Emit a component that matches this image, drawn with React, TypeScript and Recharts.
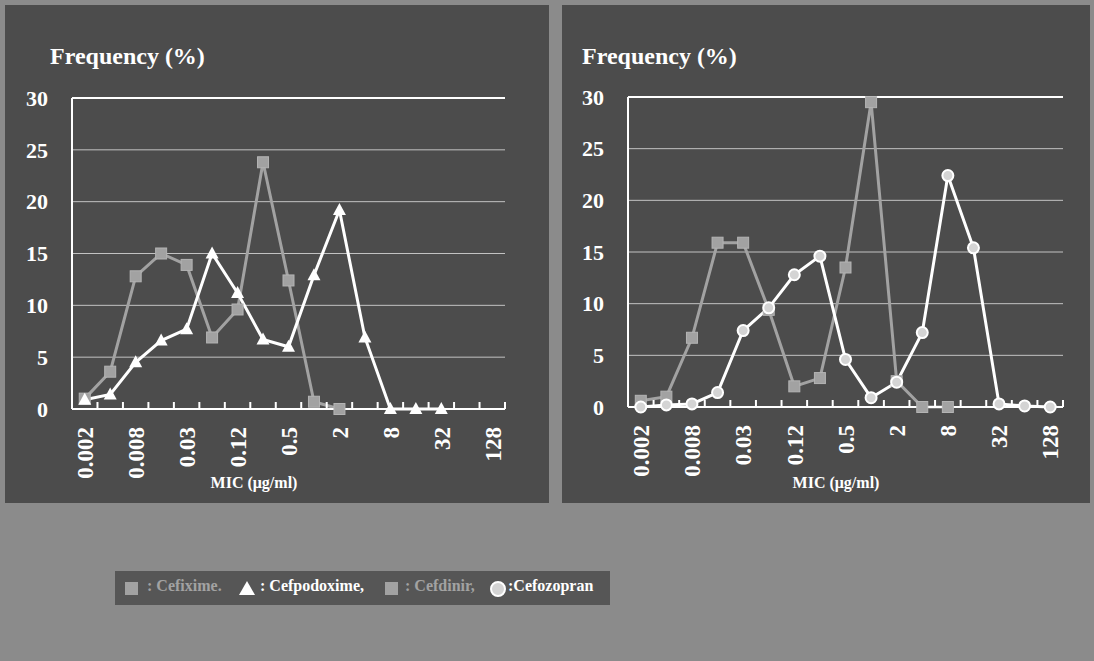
import React from 'react';
import {
  LineChart,
  Line,
  XAxis,
  YAxis,
  CartesianGrid,
  ReferenceLine
} from 'recharts';

// MIC dilution steps (µg/ml)
const categories = [
  '0.002', '0.004', '0.008', '0.016', '0.03', '0.06', '0.12', '0.25', '0.5',
  '1', '2', '4', '8', '16', '32', '64', '128'
];

// frequency (%) per MIC step
const cefixime = [1.0, 3.6, 12.8, 15.0, 13.9, 6.9, 9.6, 23.8, 12.4, 0.7, 0.0, null, null, null, null, null, null];
const cefpodoxime = [0.9, 1.4, 4.5, 6.6, 7.7, 15.0, 11.2, 6.7, 6.0, 12.9, 19.2, 6.9, 0, 0, 0, null, null];
const cefdinir = [0.6, 1.0, 6.7, 15.9, 15.9, 9.4, 2.0, 2.8, 13.5, 29.5, 2.5, 0, 0, null, null, null, null];
const cefozopran = [0, 0.2, 0.3, 1.4, 7.4, 9.6, 12.8, 14.6, 4.6, 0.9, 2.4, 7.2, 22.4, 15.4, 0.3, 0.1, 0];

const yTicks = [0, 5, 10, 15, 20, 25, 30];

const FONT = '"Liberation Serif", "Times New Roman", serif';
const GRAY = '#a2a2a2';
const PANEL_BG = '#4c4c4c';

const leftData = categories.map((c, i) => ({ mic: c, cefixime: cefixime[i], cefpodoxime: cefpodoxime[i] }));
const rightData = categories.map((c, i) => ({ mic: c, cefdinir: cefdinir[i], cefozopran: cefozopran[i] }));

const SquareDot = (props: any) => {
  const { cx, cy, index } = props;
  if (cx == null || cy == null) return <g key={`s${index}`} />;
  return <rect key={`s${index}`} x={cx - 5.5} y={cy - 5.5} width={11} height={11} fill={GRAY} stroke="#b4b4b4" strokeWidth={1} />;
};

const TriangleDot = (props: any) => {
  const { cx, cy, index } = props;
  if (cx == null || cy == null) return <g key={`t${index}`} />;
  return <polygon key={`t${index}`} points={`${cx},${cy - 7} ${cx + 6.5},${cy + 5} ${cx - 6.5},${cy + 5}`} fill="#ffffff" />;
};

const CircleDot = (props: any) => {
  const { cx, cy, index } = props;
  if (cx == null || cy == null) return <g key={`c${index}`} />;
  return <circle key={`c${index}`} cx={cx} cy={cy} r={5.5} fill="#d4d4d4" stroke="#ffffff" strokeWidth={2} />;
};

// every category gets a small inside tick at its right boundary, every other one a rotated label
const MicTick = (props: any) => {
  const { x, y, payload, index, half } = props;
  return (
    <g>
      <line x1={x + half} x2={x + half} y1={y - 7} y2={y} stroke="#ffffff" strokeWidth={2} />
      {index % 2 === 0 && (
        <text
          transform={`translate(${x},${y + 18}) rotate(-90)`}
          textAnchor="end"
          dy="0.36em"
          fill="#ffffff"
          fontSize={23}
          fontWeight="bold"
          fontFamily={FONT}
        >
          {payload.value}
        </text>
      )}
    </g>
  );
};

type PanelProps = {
  left: number;
  width: number;
  data: any[];
  margin: { top: number; right: number; bottom: number; left: number };
  yWidth: number;
  xHeight: number;
  titleX: number;
  micX: number;
  children: React.ReactNode;
};

function Panel({ left, width, data, margin, yWidth, xHeight, titleX, micX, children }: PanelProps) {
  const plotWidth = width - margin.left - margin.right - yWidth;
  const half = plotWidth / categories.length / 2;
  return (
    <div style={{ position: 'absolute', left, top: 5, width, height: 498, background: PANEL_BG }}>
      <div style={{ position: 'absolute', left: titleX, top: 38, color: '#fff', fontFamily: FONT, fontWeight: 'bold', fontSize: 24, whiteSpace: 'nowrap' }}>
        Frequency (%)
      </div>
      <LineChart width={width} height={498} data={data} margin={margin}>
        <CartesianGrid vertical={false} stroke="#c2c2c2" strokeWidth={1} />
        <XAxis
          dataKey="mic"
          interval={0}
          height={xHeight}
          padding={{ left: half, right: half }}
          axisLine={{ stroke: '#ffffff', strokeWidth: 2 }}
          tickLine={false}
          tickSize={0}
          tickMargin={0}
          tick={<MicTick half={half} />}
        />
        <YAxis
          domain={[0, 30]}
          ticks={yTicks}
          width={yWidth}
          axisLine={{ stroke: '#ffffff', strokeWidth: 2 }}
          tickLine={false}
          tickSize={0}
          tickMargin={24}
          tick={{ fill: '#ffffff', fontSize: 22, fontWeight: 'bold', fontFamily: FONT }}
        />
        <YAxis
          yAxisId="frame"
          orientation="right"
          width={0}
          domain={[0, 30]}
          tick={false}
          tickLine={false}
          axisLine={{ stroke: '#ffffff', strokeWidth: 2 }}
        />
        <ReferenceLine y={30} stroke="#ffffff" strokeWidth={2} />
        {children}
      </LineChart>
      <div style={{ position: 'absolute', left: micX, top: 469, transform: 'translateX(-50%)', color: '#fff', fontFamily: FONT, fontWeight: 'bold', fontSize: 16, whiteSpace: 'nowrap' }}>
        MIC (μg/ml)
      </div>
    </div>
  );
}

const legendText = { position: 'absolute' as const, top: 6, fontFamily: FONT, fontWeight: 'bold' as const, fontSize: 16, whiteSpace: 'nowrap' as const };

export default function App() {
  return (
    <div style={{ position: 'absolute', left: 0, top: 0, width: 1094, height: 661, background: '#8b8b8b', overflow: 'hidden' }}>
      <Panel
        left={5}
        width={544}
        data={leftData}
        margin={{ top: 93, right: 44, bottom: 0, left: 0 }}
        yWidth={67}
        xHeight={94}
        titleX={45}
        micX={249}
      >
        <Line dataKey="cefixime" stroke={GRAY} strokeWidth={3} dot={SquareDot} isAnimationActive={false} />
        <Line dataKey="cefpodoxime" stroke="#ffffff" strokeWidth={3} dot={TriangleDot} isAnimationActive={false} />
      </Panel>
      <Panel
        left={562}
        width={528}
        data={rightData}
        margin={{ top: 92, right: 27, bottom: 0, left: 0 }}
        yWidth={66}
        xHeight={96}
        titleX={20}
        micX={274}
      >
        <Line dataKey="cefdinir" stroke={GRAY} strokeWidth={3} dot={SquareDot} isAnimationActive={false} />
        <Line dataKey="cefozopran" stroke="#ffffff" strokeWidth={3} dot={CircleDot} isAnimationActive={false} />
      </Panel>
      <div style={{ position: 'absolute', left: 115, top: 571, width: 495, height: 34, background: '#565656' }}>
        <div style={{ position: 'absolute', left: 10, top: 11, width: 13, height: 13, background: GRAY }} />
        <span style={{ ...legendText, left: 32, color: GRAY }}>: Cefixime.</span>
        <svg style={{ position: 'absolute', left: 124, top: 10 }} width={16} height={14}>
          <polygon points="8,0 16,14 0,14" fill="#ffffff" />
        </svg>
        <span style={{ ...legendText, left: 145, color: '#ffffff' }}>: Cefpodoxime,</span>
        <div style={{ position: 'absolute', left: 270, top: 11, width: 13, height: 13, background: GRAY }} />
        <span style={{ ...legendText, left: 290, color: GRAY }}>: Cefdinir,</span>
        <svg style={{ position: 'absolute', left: 374, top: 9 }} width={18} height={18}>
          <circle cx={9} cy={9} r={7} fill="#d4d4d4" stroke="#ffffff" strokeWidth={2} />
        </svg>
        <span style={{ ...legendText, left: 393, color: '#ffffff' }}>:Cefozopran</span>
      </div>
    </div>
  );
}
